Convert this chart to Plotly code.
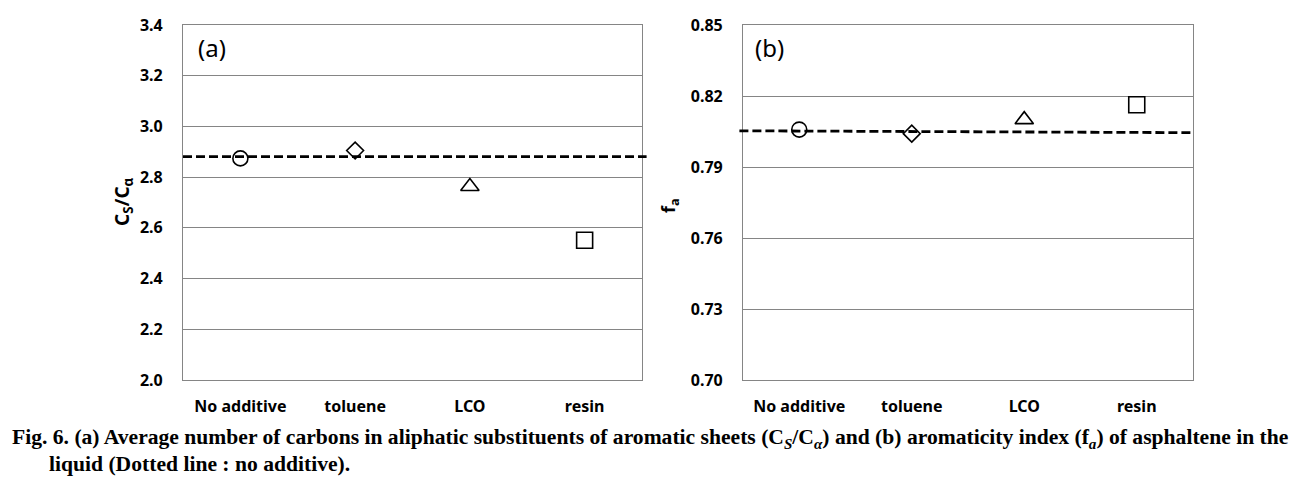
import plotly.graph_objects as go

categories = ["No additive", "toluene", "LCO", "resin"]
symbols = ["circle-open", "diamond-open", "triangle-up-open", "square-open"]
sizes = [15, 13, 16, 16]

cs_ca = [2.874, 2.905, 2.763, 2.551]
cs_ca_ref = 2.881

fa = [0.8058, 0.8041, 0.8100, 0.8163]
fa_ref_start = 0.8053
fa_ref_end = 0.8045

ticks_a = [2.0, 2.2, 2.4, 2.6, 2.8, 3.0, 3.2, 3.4]
ticks_b = [0.70, 0.73, 0.76, 0.79, 0.82, 0.85]

OFF = 8  # page body margin
W, H = 1298 - OFF, 484 - OFF
# plot-area extent in page pixels
L, R, T, B = 183, 1193, 25, 380
PW = R - L
def px_x(v): return (v - L) / PW
def px_y(v): return (B - v) / (B - T)

fig = go.Figure()
xs = list(range(len(categories)))
for i in range(len(categories)):
    fig.add_trace(go.Scatter(x=[xs[i]], y=[cs_ca[i]], mode="markers",
                             marker=dict(symbol=symbols[i], size=sizes[i], color="black",
                                         line=dict(width=1.6, color="black")),
                             xaxis="x", yaxis="y", showlegend=False))
    fig.add_trace(go.Scatter(x=[xs[i]], y=[fa[i]], mode="markers",
                             marker=dict(symbol=symbols[i], size=sizes[i], color="black",
                                         line=dict(width=1.6, color="black")),
                             xaxis="x2", yaxis="y2", showlegend=False))

tickfont = dict(family="Noto Sans", size=16, color="black", weight="bold")
grid = "#858585"
common_x = dict(range=[-0.5, 3.5], tickmode="array", tickvals=xs, ticktext=categories,
                showgrid=False, zeroline=False, showline=True, linecolor=grid, linewidth=1.2,
                mirror=True, ticks="", tickfont=tickfont, ticklabelstandoff=12, automargin=False)
common_y = dict(tickmode="array", showgrid=True, gridcolor=grid, gridwidth=1.2, zeroline=False,
                showline=True, linecolor=grid, linewidth=1.2, mirror=True, ticks="",
                tickfont=tickfont, ticklabelstandoff=16, automargin=False)

fig.update_layout(
    width=W, height=H, autosize=False,
    margin=dict(l=L - OFF, r=1298 - R, t=T - OFF, b=484 - B, pad=0, autoexpand=False),
    paper_bgcolor="white", plot_bgcolor="white", showlegend=False,
    xaxis=dict(domain=[0, px_x(642)], anchor="y", **common_x),
    yaxis=dict(domain=[0, 1], anchor="x", range=[2.0, 3.4],
               tickvals=ticks_a, ticktext=[f"{t:.1f}" for t in ticks_a], **common_y),
    xaxis2=dict(domain=[px_x(743), 1], anchor="y2", **common_x),
    yaxis2=dict(domain=[0, 1], anchor="x2", range=[0.70, 0.85],
                tickvals=ticks_b, ticktext=[f"{t:.2f}" for t in ticks_b], **common_y),
)

dash = dict(color="black", width=2.8, dash="9px,4px")
fig.add_shape(type="line", xref="x domain", yref="y", x0=0, x1=1.01, y0=cs_ca_ref, y1=cs_ca_ref, line=dash)
fig.add_shape(type="line", xref="x2 domain", yref="y2", x0=-0.008, x1=1, y0=fa_ref_start, y1=fa_ref_end, line=dash)

fig.add_annotation(xref="paper", yref="paper", x=px_x(196), y=px_y(47), text="(a)", showarrow=False,
                   xanchor="left", yanchor="middle", font=dict(family="Noto Sans", size=24, color="black"))
fig.add_annotation(xref="paper", yref="paper", x=px_x(753), y=px_y(47), text="(b)", showarrow=False,
                   xanchor="left", yanchor="middle", font=dict(family="Noto Sans", size=24, color="black"))

fig.add_annotation(xref="paper", yref="paper", x=px_x(123), y=px_y(202),
                   text="C<sub>S</sub>/C<sub>α</sub>", textangle=-90, showarrow=False,
                   xanchor="center", yanchor="middle",
                   font=dict(family="Noto Sans", size=19, color="black", weight="bold"))
fig.add_annotation(xref="paper", yref="paper", x=px_x(669), y=px_y(206),
                   text="f<sub>a</sub>", textangle=-90, showarrow=False,
                   xanchor="center", yanchor="middle",
                   font=dict(family="Noto Sans", size=18, color="black", weight="bold"))

capfont = dict(family="Liberation Serif", size=21.6, color="black", weight="bold")
fig.add_annotation(xref="paper", yref="paper", x=px_x(10), y=px_y(438), xanchor="left", yanchor="middle",
                   showarrow=False, font=capfont,
                   text="Fig. 6. (a) Average number of carbons in aliphatic substituents of aromatic sheets "
                        "(C<sub><i>S</i></sub>/C<sub><i>α</i></sub>) and (b) aromaticity index (f<sub><i>a</i></sub>) "
                        "of asphaltene in the")
fig.add_annotation(xref="paper", yref="paper", x=px_x(47), y=px_y(464), xanchor="left", yanchor="middle",
                   showarrow=False, font=capfont,
                   text="liquid (Dotted line : no additive).")

fig.write_html("out.html")
